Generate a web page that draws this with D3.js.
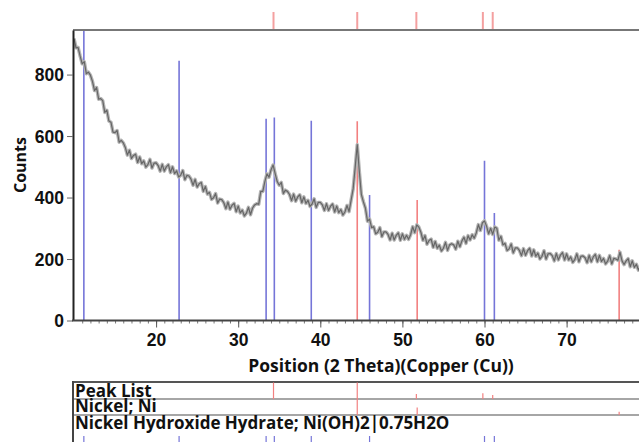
<!DOCTYPE html>
<html>
<head>
<meta charset="utf-8">
<script src="https://cdn.jsdelivr.net/npm/d3@7"></script>
<style>
  body { margin: 0; background: #fff; }
  svg { display: block; font-family: "Open Sans", sans-serif; }
</style>
</head>
<body>
<svg id="chart" width="639" height="442"></svg>
<script>
// scan grid: 2 theta from 10 deg, one reading every 0.25 deg
var scanStart = 10;
var scanStep = 0.25;

// counts (4 readings per degree, starting at 10.00)
var scanCounts = [
	917, 887, 888, 860,   835, 842, 803, 808,   798, 778, 748, 758,   720, 722, 715, 677,
	684, 649, 645, 613,   611, 618, 580, 586,   578, 563, 538, 554,   527, 537, 541, 514,
	532, 510, 519, 499,   507, 524, 496, 512,   513, 504, 486, 508,   486, 500, 507, 481,
	500, 478, 487, 467,   473, 488, 458, 472,   470, 460, 440, 459,   434, 445, 449, 420,
	436, 411, 417, 394,   399, 413, 382, 395,   393, 383, 364, 385,   362, 375, 381, 354,
	372, 350, 359, 340,   349, 368, 344, 366,   376, 380, 378, 420,   420, 452, 477, 466,
	490, 506, 478, 452,   440, 449, 413, 424,   420, 410, 390, 411,   388, 402, 409, 383,
	402, 381, 391, 371,   379, 396, 368, 384,   384, 376, 358, 380,   358, 372, 379, 353,
	372, 351, 361, 343,   353, 374, 354, 391,   428, 498, 572, 486,   410, 386, 365, 323,
	330, 302, 305, 282,   287, 302, 273, 288,   288, 280, 262, 284,   262, 277, 285, 261,
	282, 264, 277, 264,   279, 305, 286, 311,   304, 287, 261, 276,   248, 260, 265, 238,
	257, 235, 245, 226,   235, 254, 228, 246,   250, 246, 232, 258,   240, 259, 271, 251,
	276, 262, 279, 268,   285, 312, 293, 318,   324, 307, 282, 300,   280, 304, 300, 261,
	274, 246, 251, 228,   233, 249, 220, 236,   236, 228, 211, 234,   212, 227, 235, 210,
	230, 209, 219, 200,   209, 227, 200, 217,   218, 211, 194, 218,   197, 213, 221, 197,
	217, 197, 207, 189,   198, 217, 191, 209,   210, 204, 188, 212,   191, 207, 215, 191,
	212, 192, 202, 184,   193, 211, 184, 202,   200, 196, 222, 194,   182, 194, 201, 175,
	194, 173, 183, 164,   176
];

// reference patterns (position, counts shown in main plot)
var hydratePos    = [11.2, 22.8, 33.4, 34.4, 38.9, 46.0, 60.0, 61.2];
var hydrateCounts = [1000, 845, 656, 660, 650, 408, 520, 350];
var nickelPos     = [44.5, 51.8, 76.4];
var nickelCounts  = [648, 392, 230];

// peak list found in the scan, with relative height
var peakPos = [34.3, 44.5, 51.7, 59.8, 61.0];
var peakRel = [1.0, 1.0, 0.3, 0.35, 0.25];
var nickelRel = [1.0, 0.45, 0.2];

var yTicks = [0, 200, 400, 600, 800];
var xTicks = [20, 30, 40, 50, 60, 70];
var rowNames = ["Peak List", "Nickel; Ni", "Nickel Hydroxide Hydrate; Ni(OH)2|0.75H2O"];

var blue = "#7575d8";
var red = "#f28080";

var svg = d3.select("#chart");
var plotLeft = 73, plotTop = 30, plotBottom = 320.5, plotRight = 639;

var x = d3.scaleLinear().domain([10, 80]).range([74, 648.7]);
var y = d3.scaleLinear().domain([0, 945]).range([plotBottom, plotTop]);

svg.append("clipPath").attr("id", "plotClip")
	.append("rect")
	.attr("x", plotLeft).attr("y", plotTop)
	.attr("width", plotRight - plotLeft).attr("height", plotBottom - plotTop);

var plot = svg.append("g").attr("clip-path", "url(#plotClip)");

// reference lines
plot.selectAll("line.hyd")
	.data(hydratePos)
	.enter().append("line")
	.attr("class", "hyd")
	.attr("x1", function (d) { return x(d); })
	.attr("x2", function (d) { return x(d); })
	.attr("y1", y(0))
	.attr("y2", function (d, i) { return y(hydrateCounts[i]); })
	.style("stroke", blue)
	.style("stroke-width", 1.6);

plot.selectAll("line.ni")
	.data(nickelPos)
	.enter().append("line")
	.attr("class", "ni")
	.attr("x1", function (d) { return x(d); })
	.attr("x2", function (d) { return x(d); })
	.attr("y1", y(0))
	.attr("y2", function (d, i) { return y(nickelCounts[i]); })
	.style("stroke", red)
	.style("stroke-width", 1.6);

// the scan itself: a soft grey halo under a darker trace
var scan = scanCounts.map(function (c, i) { return [scanStart + i * scanStep, c]; });
var line = d3.line()
	.x(function (d) { return x(d[0]); })
	.y(function (d) { return y(d[1]); });

plot.append("path")
	.datum(scan)
	.attr("d", line)
	.style("fill", "none")
	.style("stroke", "#b4b4b4")
	.style("stroke-width", 3.5)
	.style("stroke-linejoin", "round");

plot.append("path")
	.datum(scan)
	.attr("d", line)
	.style("fill", "none")
	.style("stroke", "#666")
	.style("stroke-width", 1.2)
	.style("stroke-linejoin", "round");

// peak markers above the plot
svg.selectAll("line.peakTop")
	.data(peakPos)
	.enter().append("line")
	.attr("class", "peakTop")
	.attr("x1", function (d) { return x(d); })
	.attr("x2", function (d) { return x(d); })
	.attr("y1", 12)
	.attr("y2", plotTop)
	.style("stroke", "#f4a0a0")
	.style("stroke-width", 2);

// top frame
svg.append("line")
	.attr("x1", plotLeft).attr("x2", plotRight)
	.attr("y1", plotTop).attr("y2", plotTop)
	.style("stroke", "#777")
	.style("stroke-width", 2);

// y axis
var yAxis = svg.append("g")
	.attr("transform", "translate(" + plotLeft + ",0)")
	.call(d3.axisLeft(y).tickValues(yTicks).tickSize(6).tickSizeOuter(0).tickPadding(3));
yAxis.select(".domain").style("stroke", "#222").style("stroke-width", 2);
yAxis.selectAll(".tick line").style("stroke", "#666").style("stroke-width", 1);
yAxis.selectAll(".tick text")
	.style("font-size", "17.5px").style("font-weight", "bold").style("fill", "#111")
	.attr("dy", "0.36em");

// x axis: minor ticks every degree, then labelled majors
var xMinor = svg.append("g")
	.attr("transform", "translate(0," + plotBottom + ")")
	.call(d3.axisBottom(x).tickValues(d3.range(11, 80)).tickSize(3).tickSizeOuter(0).tickFormat(""));
xMinor.select(".domain").remove();
xMinor.selectAll(".tick line").style("stroke", "#777").style("stroke-width", 1);

var xAxis = svg.append("g")
	.attr("transform", "translate(0," + plotBottom + ")")
	.call(d3.axisBottom(x).tickValues(xTicks).tickSize(7).tickSizeOuter(0).tickPadding(6));
xAxis.select(".domain").remove();
xAxis.selectAll(".tick line").style("stroke", "#555").style("stroke-width", 1);
xAxis.selectAll(".tick text")
	.style("font-size", "17.5px").style("font-weight", "bold").style("fill", "#111");

svg.append("line")
	.attr("x1", plotLeft - 1).attr("x2", plotRight)
	.attr("y1", plotBottom).attr("y2", plotBottom)
	.style("stroke", "#444")
	.style("stroke-width", 2);

// axis titles
svg.append("text")
	.attr("x", 381).attr("y", 372)
	.attr("text-anchor", "middle")
	.style("font-size", "17.5px").style("font-weight", "bold").style("fill", "#111")
	.text("Position (2 Theta)(Copper (Cu))");

svg.append("text")
	.attr("transform", "translate(26,165) rotate(-90)")
	.attr("text-anchor", "middle")
	.style("font-size", "16px").style("font-weight", "bold").style("fill", "#111")
	.text("Counts");

// lower panel: pattern list
var rowTop = [382, 399, 415];
var rowH = 16.5;

svg.selectAll("line.rowLine")
	.data(rowTop)
	.enter().append("line")
	.attr("class", "rowLine")
	.attr("x1", plotLeft).attr("x2", plotRight)
	.attr("y1", function (d) { return d; })
	.attr("y2", function (d) { return d; })
	.style("stroke", function (d, i) { return i == 0 ? "#555" : "#888"; })
	.style("stroke-width", function (d, i) { return i == 0 ? 2 : 1.5; });

svg.append("line")
	.attr("x1", plotLeft).attr("x2", plotLeft)
	.attr("y1", 381).attr("y2", 442)
	.style("stroke", "#444")
	.style("stroke-width", 2);

svg.selectAll("line.plRow")
	.data(peakPos)
	.enter().append("line")
	.attr("class", "plRow")
	.attr("x1", function (d) { return x(d); })
	.attr("x2", function (d) { return x(d); })
	.attr("y1", rowTop[1])
	.attr("y2", function (d, i) { return rowTop[1] - peakRel[i] * rowH; })
	.style("stroke", red)
	.style("stroke-width", 1.2);

svg.selectAll("line.niRow")
	.data(nickelPos)
	.enter().append("line")
	.attr("class", "niRow")
	.attr("x1", function (d) { return x(d); })
	.attr("x2", function (d) { return x(d); })
	.attr("y1", rowTop[2])
	.attr("y2", function (d, i) { return rowTop[2] - nickelRel[i] * rowH; })
	.style("stroke", red)
	.style("stroke-width", 1.2);

svg.selectAll("line.hydRow")
	.data(hydratePos)
	.enter().append("line")
	.attr("class", "hydRow")
	.attr("x1", function (d) { return x(d); })
	.attr("x2", function (d) { return x(d); })
	.attr("y1", 442)
	.attr("y2", 436)
	.style("stroke", blue)
	.style("stroke-width", 1.2);

svg.selectAll("text.rowName")
	.data(rowNames)
	.enter().append("text")
	.attr("class", "rowName")
	.attr("x", 75)
	.attr("y", function (d, i) { return [396.5, 412, 429][i]; })
	.style("font-size", "17px").style("font-weight", "bold").style("fill", "#111")
	.text(function (d) { return d; });
</script>
</body>
</html>
